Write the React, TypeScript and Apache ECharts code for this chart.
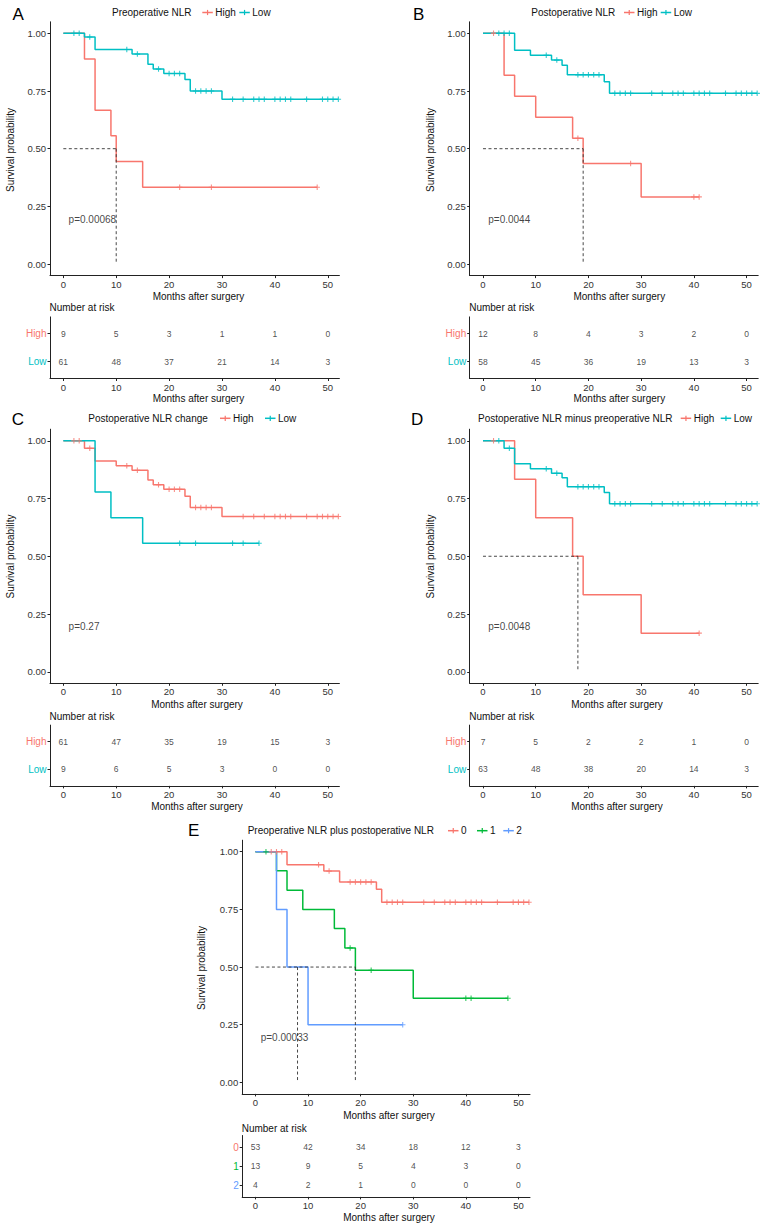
import React, { useEffect, useRef } from "react";
import * as echarts from "echarts";

const RED = "#F8766D";
const CYAN = "#00BFC4";
const GREEN = "#00BA38";
const BLUE = "#619CFF";
const FONT = '"Liberation Sans", Arial, Helvetica, sans-serif';
const INK = "#333333";

const timeTicks = [0, 10, 20, 30, 40, 50];
const probTicks = [0, 0.25, 0.5, 0.75, 1];
const XMIN = -2.52;
const XMAX = 52.2;

// ---------- Panel A : Preoperative NLR ----------
const aHighSteps = [[0, 1], [4, 0.889], [6, 0.667], [9, 0.556], [10, 0.444], [15, 0.333], [48, 0.333]];
const aHighCensor = [22, 28, 48];
const aLowSteps = [[0, 1], [4, 0.984], [6, 0.93], [13, 0.91], [16, 0.866], [17, 0.845], [19, 0.826], [23, 0.8], [24, 0.75], [30, 0.714], [52, 0.714]];
const aLowCensor = [2, 3, 5, 12, 14, 18, 20, 21, 22, 25, 26, 27, 28, 32, 34, 36, 37, 38, 40, 41, 42, 43, 46, 49, 50, 51, 52];
const aHighRisk = [9, 5, 3, 1, 1, 0];
const aLowRisk = [61, 48, 37, 21, 14, 3];
const aMedians = [10];
const aP = "p=0.00068";

// ---------- Panel B : Postoperative NLR ----------
const bHighSteps = [[0, 1], [4, 0.818], [6, 0.727], [10, 0.636], [17, 0.545], [19, 0.436], [30, 0.291], [41, 0.291]];
const bHighCensor = [2, 18, 28, 40, 41];
const bLowSteps = [[0, 1], [6, 0.927], [9, 0.905], [13, 0.884], [15, 0.862], [16, 0.82], [23, 0.79], [24, 0.74], [52, 0.74]];
const bLowCensor = [3, 4, 5, 12, 14, 18, 19, 20, 21, 22, 25, 26, 27, 28, 32, 34, 36, 37, 38, 40, 41, 42, 43, 46, 48, 49, 50, 51, 52];
const bHighRisk = [12, 8, 4, 3, 2, 0];
const bLowRisk = [58, 45, 36, 19, 13, 3];
const bMedians = [19];
const bP = "p=0.0044";

// ---------- Panel C : Postoperative NLR change ----------
const cHighSteps = [[0, 1], [4, 0.967], [6, 0.912], [10, 0.892], [13, 0.872], [16, 0.83], [17, 0.81], [19, 0.79], [23, 0.76], [24, 0.711], [30, 0.672], [52, 0.672]];
const cHighCensor = [2, 3, 5, 12, 14, 18, 20, 21, 22, 25, 26, 27, 28, 34, 36, 38, 40, 41, 42, 43, 46, 48, 49, 50, 51, 52];
const cLowSteps = [[0, 1], [6, 0.778], [9, 0.667], [15, 0.556], [37, 0.556]];
const cLowCensor = [22, 25, 32, 34, 37];
const cHighRisk = [61, 47, 35, 19, 15, 3];
const cLowRisk = [9, 6, 5, 3, 0, 0];
const cMedians: number[] = [];
const cP = "p=0.27";

// ---------- Panel D : Postoperative minus preoperative NLR ----------
const dHighSteps = [[0, 1], [6, 0.833], [10, 0.667], [17, 0.5], [19, 0.333], [30, 0.167], [41, 0.167]];
const dHighCensor = [2, 41];
const dLowSteps = [[0, 1], [4, 0.967], [6, 0.9], [9, 0.879], [13, 0.859], [15, 0.84], [16, 0.801], [23, 0.776], [24, 0.727], [52, 0.727]];
const dLowCensor = [3, 5, 12, 14, 18, 19, 20, 21, 22, 25, 26, 27, 28, 32, 34, 36, 37, 38, 40, 41, 42, 43, 46, 48, 49, 50, 51, 52];
const dHighRisk = [7, 5, 2, 2, 1, 0];
const dLowRisk = [63, 48, 38, 20, 14, 3];
const dMedians = [18];
const dP = "p=0.0048";

// ---------- Panel E : Preoperative plus postoperative NLR ----------
const e0Steps = [[0, 1], [6, 0.944], [13, 0.916], [16, 0.869], [23, 0.837], [24, 0.781], [52, 0.781]];
const e0Censor = [3, 4, 5, 12, 14, 18, 19, 20, 21, 22, 25, 26, 27, 28, 32, 34, 36, 37, 38, 40, 41, 42, 43, 46, 49, 50, 51, 52];
const e1Steps = [[0, 1], [4, 0.917], [6, 0.833], [9, 0.75], [15, 0.667], [17, 0.583], [19, 0.486], [30, 0.365], [48, 0.365]];
const e1Censor = [2, 18, 22, 40, 41, 48];
const e2Steps = [[0, 1], [4, 0.75], [6, 0.5], [10, 0.25], [28, 0.25]];
const e2Censor = [28];
const e0Risk = [53, 42, 34, 18, 12, 3];
const e1Risk = [13, 9, 5, 4, 3, 0];
const e2Risk = [4, 2, 1, 0, 0, 0];
const eMedians = [8, 19];
const eP = "p=0.00033";

type Group = { name: string; color: string; steps: number[][]; censors: number[]; risk: number[] };
type Panel = {
  letter: string; legendTitle: string; groups: Group[]; medians: number[]; pText: string;
  left: number; width: number; plotTop: number; plotH: number; tabTop: number; tabH: number;
  letterX: number; letterY: number; legendX: number; legendY: number; keyX: number[];
  titleX: number; yTitleX: number; yTitleY: number; narY: number;
};

const panels: Panel[] = [
  {
    letter: "A", legendTitle: "Preoperative NLR",
    groups: [
      { name: "High", color: RED, steps: aHighSteps, censors: aHighCensor, risk: aHighRisk },
      { name: "Low", color: CYAN, steps: aLowSteps, censors: aLowCensor, risk: aLowRisk },
    ],
    medians: aMedians, pText: aP,
    left: 50, width: 289.4, plotTop: 21.8, plotH: 253.8, tabTop: 316.9, tabH: 61.6,
    letterX: 12.5, letterY: 14.5, legendX: 112, legendY: 12.5, keyX: [202.3, 239.3],
    titleX: 198.5, yTitleX: 10, yTitleY: 150, narY: 307.7,
  },
  {
    letter: "B", legendTitle: "Postoperative NLR",
    groups: [
      { name: "High", color: RED, steps: bHighSteps, censors: bHighCensor, risk: bHighRisk },
      { name: "Low", color: CYAN, steps: bLowSteps, censors: bLowCensor, risk: bLowRisk },
    ],
    medians: bMedians, pText: bP,
    left: 469.7, width: 288.5, plotTop: 21.8, plotH: 253.8, tabTop: 316.9, tabH: 61.6,
    letterX: 413, letterY: 14.5, legendX: 531.3, legendY: 12.5, keyX: [624, 660.7],
    titleX: 619.3, yTitleX: 430, yTitleY: 150, narY: 307.7,
  },
  {
    letter: "C", legendTitle: "Postoperative NLR change",
    groups: [
      { name: "High", color: RED, steps: cHighSteps, censors: cHighCensor, risk: cHighRisk },
      { name: "Low", color: CYAN, steps: cLowSteps, censors: cLowCensor, risk: cLowRisk },
    ],
    medians: cMedians, pText: cP,
    left: 50, width: 289.4, plotTop: 429.2, plotH: 254.1, tabTop: 725.1, tabH: 60.8,
    letterX: 11.7, letterY: 419.5, legendX: 88.3, legendY: 418.3, keyX: [220, 265],
    titleX: 197, yTitleX: 10, yTitleY: 556.5, narY: 716,
  },
  {
    letter: "D", legendTitle: "Postoperative NLR minus preoperative NLR",
    groups: [
      { name: "High", color: RED, steps: dHighSteps, censors: dHighCensor, risk: dHighRisk },
      { name: "Low", color: CYAN, steps: dLowSteps, censors: dLowCensor, risk: dLowRisk },
    ],
    medians: dMedians, pText: dP,
    left: 469.7, width: 288.5, plotTop: 429.2, plotH: 254.1, tabTop: 725.1, tabH: 60.8,
    letterX: 411, letterY: 419.5, legendX: 478, legendY: 418.3, keyX: [680.7, 720.7],
    titleX: 617, yTitleX: 430, yTitleY: 556.5, narY: 716,
  },
  {
    letter: "E", legendTitle: "Preoperative NLR plus postoperative NLR",
    groups: [
      { name: "0", color: RED, steps: e0Steps, censors: e0Censor, risk: e0Risk },
      { name: "1", color: GREEN, steps: e1Steps, censors: e1Censor, risk: e1Risk },
      { name: "2", color: BLUE, steps: e2Steps, censors: e2Censor, risk: e2Risk },
    ],
    medians: eMedians, pText: eP,
    left: 242.2, width: 287.8, plotTop: 840.2, plotH: 253.7, tabTop: 1135.5, tabH: 61.4,
    letterX: 188, letterY: 830, legendX: 247.7, legendY: 830.7, keyX: [448, 477, 503.3],
    titleX: 389, yTitleX: 201, yTitleY: 968, narY: 1128.3,
  },
];

const CROSS = "path://M4,0H6V4H10V6H6V10H4V6H0V4H4Z";

function survAt(steps: number[][], t: number) {
  let v = steps[0][1];
  for (const [x, y] of steps) if (x <= t) v = y;
  return v;
}

function buildOption() {
  const grid: any[] = [];
  const xAxis: any[] = [];
  const yAxis: any[] = [];
  const series: any[] = [];
  const graphic: any[] = [];

  const axisLine = { show: true, onZero: false, lineStyle: { color: "#222", width: 1 } };
  const axisTickBase = { show: true, length: 2.5, inside: false, lineStyle: { color: "#222", width: 1 } };
  const txt = (text: string, x: number, y: number, size: number, align = "left", fill = "#111", rotation = 0) => ({
    type: "text", x, y, rotation, silent: true,
    style: { text, fill, fontSize: size, fontFamily: FONT, align, verticalAlign: "middle" },
  });
  const plainLabel = (size: number, color: string) => ({
    show: true, position: "inside", fontSize: size, fontFamily: FONT, color,
    textBorderWidth: 0, textBorderColor: "transparent", textShadowBlur: 0,
  });

  panels.forEach((p, i) => {
    const gp = 2 * i;
    const gt = 2 * i + 1;
    const n = p.groups.length;
    grid.push({ left: p.left, top: p.plotTop, width: p.width, height: p.plotH, outerBoundsMode: "none", containLabel: false });
    grid.push({ left: p.left, top: p.tabTop, width: p.width, height: p.tabH, outerBoundsMode: "none", containLabel: false });

    const xBase = {
      type: "value", min: XMIN, max: XMAX, axisLine,
      axisTick: { ...axisTickBase, customValues: timeTicks },
      axisLabel: { customValues: timeTicks, margin: 3.5, fontSize: 9.5, color: INK, fontFamily: FONT },
      splitLine: { show: false },
    };
    xAxis.push({ ...xBase, gridIndex: gp });
    xAxis.push({ ...xBase, gridIndex: gt });

    yAxis.push({
      gridIndex: gp, type: "value", min: -0.05, max: 1.05, axisLine,
      axisTick: { ...axisTickBase, customValues: probTicks },
      axisLabel: { customValues: probTicks, margin: 4, fontSize: 9.5, color: INK, fontFamily: FONT, formatter: (v: number) => v.toFixed(2) },
      splitLine: { show: false },
    });
    const rows = p.groups.map((_, k) => k + 1);
    const rich: any = {};
    p.groups.forEach((g, k) => { rich["g" + k] = { color: g.color, fontSize: 10, fontFamily: FONT }; });
    yAxis.push({
      gridIndex: gt, type: "value", min: 0.4, max: n + 0.6, inverse: true, axisLine,
      axisTick: { ...axisTickBase, customValues: rows },
      axisLabel: {
        customValues: rows, margin: 3.5, fontSize: 10, fontFamily: FONT,
        formatter: (v: number) => `{g${Math.round(v) - 1}|${p.groups[Math.round(v) - 1].name}}`, rich,
      },
      splitLine: { show: false },
    });

    // curves
    p.groups.forEach((g, k) => {
      series.push({
        type: "line", xAxisIndex: gp, yAxisIndex: gp, step: "end", data: g.steps,
        showSymbol: false, symbol: "none", lineStyle: { color: g.color, width: 1.5 }, z: 3, silent: true,
      });
      series.push({
        type: "scatter", xAxisIndex: gp, yAxisIndex: gp, symbol: CROSS, symbolSize: 5.5,
        data: g.censors.map((t) => [t, survAt(g.steps, t)]),
        itemStyle: { color: g.color }, z: 4, silent: true,
      });
      // risk numbers
      series.push({
        type: "scatter", xAxisIndex: gt, yAxisIndex: gt, symbolSize: 0,
        itemStyle: { color: "transparent" },
        data: g.risk.map((r, j) => [timeTicks[j], k + 1, r]),
        label: { ...plainLabel(8.5, "#222"), formatter: (d: any) => String(d.value[2]) },
        silent: true,
      });
    });

    // median lines
    if (p.medians.length) {
      const mx = Math.max(...p.medians);
      const dash = { type: [3, 2.5], color: "#333", width: 0.9 };
      series.push({
        type: "line", xAxisIndex: gp, yAxisIndex: gp, data: [[0, 0.5], [mx, 0.5]],
        showSymbol: false, symbol: "none", lineStyle: dash, z: 5, silent: true,
      });
      p.medians.forEach((m) => {
        series.push({
          type: "line", xAxisIndex: gp, yAxisIndex: gp, data: [[m, 0.5], [m, 0]],
          showSymbol: false, symbol: "none", lineStyle: dash, z: 5, silent: true,
        });
      });
    }

    // p value
    series.push({
      type: "scatter", xAxisIndex: gp, yAxisIndex: gp, symbolSize: 0, data: [[1, 0.195]],
      itemStyle: { color: "transparent" },
      label: { ...plainLabel(10, "#111"), align: "left", formatter: () => p.pText },
      silent: true, z: 6,
    });

    // texts
    graphic.push(txt(p.letter, p.letterX, p.letterY, 17, "left", "#000"));
    graphic.push(txt(p.legendTitle, p.legendX, p.legendY, 10, "left", "#111"));
    p.groups.forEach((g, k) => {
      const kx = p.keyX[k];
      const cx = kx + 5.25;
      graphic.push({ type: "line", silent: true, shape: { x1: kx, y1: p.legendY, x2: kx + 10.5, y2: p.legendY }, style: { stroke: g.color, lineWidth: 1.5 } });
      graphic.push({ type: "line", silent: true, shape: { x1: cx, y1: p.legendY - 2.6, x2: cx, y2: p.legendY + 2.6 }, style: { stroke: g.color, lineWidth: 1.2 } });
      graphic.push(txt(g.name, kx + 13, p.legendY, 10, "left", "#111"));
    });
    const plotBottom = p.plotTop + p.plotH;
    const tabBottom = p.tabTop + p.tabH;
    graphic.push(txt("Months after surgery", p.titleX, plotBottom + 21.2, 10, "center"));
    graphic.push(txt("Months after surgery", p.titleX, tabBottom + 20.3, 10, "center"));
    graphic.push(txt("Number at risk", p.left - 0.5, p.narY, 10, "left"));
    graphic.push(txt("Survival probability", p.yTitleX, p.yTitleY, 10, "center", "#111", Math.PI / 2));
  });

  return {
    animation: false,
    backgroundColor: "#ffffff",
    textStyle: { fontFamily: FONT },
    grid, xAxis, yAxis, series, graphic,
  };
}

export default function App() {
  const ref = useRef<HTMLDivElement>(null);
  useEffect(() => {
    if (!ref.current) return;
    const chart = echarts.init(ref.current, undefined, { renderer: "svg" });
    chart.setOption(buildOption() as any);
    return () => chart.dispose();
  }, []);
  return (
    <div
      ref={ref}
      style={{ position: "absolute", left: 0, top: 0, width: 765, height: 1228, background: "#fff" }}
    />
  );
}
